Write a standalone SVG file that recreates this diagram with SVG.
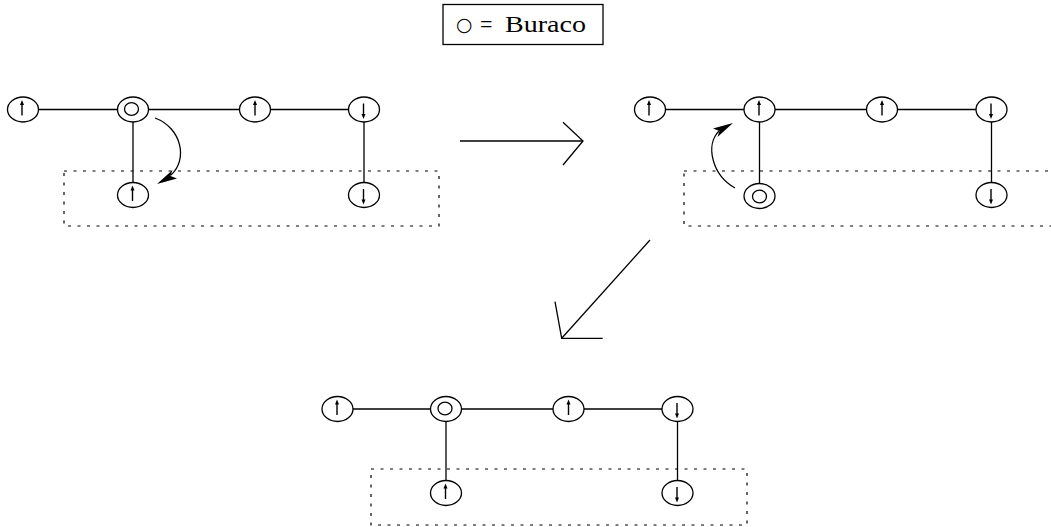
<svg xmlns="http://www.w3.org/2000/svg" xmlns:xlink="http://www.w3.org/1999/xlink" width="1051" height="527" viewBox="0 0 1051 527">
<style>
.n{fill:#fff;stroke:#000;stroke-width:1.3}
.e{fill:none;stroke:#000;stroke-width:1.3}
.d{fill:none;stroke:#000;stroke-width:1.2;stroke-dasharray:3 6.5}
.t{font-family:"Liberation Serif","Times New Roman",serif;font-size:23px;fill:#000}
.ah{fill:#000;stroke:none}
</style>
<defs>
<g id="up"><line x1="0" y1="6" x2="0" y2="-5" stroke="#000" stroke-width="1.4"/><polygon points="0,-9.5 -2,-4.5 2,-4.5" fill="#000"/></g>
<g id="down"><line x1="0" y1="-6" x2="0" y2="5" stroke="#000" stroke-width="1.4"/><polygon points="0,9.5 -2,4.5 2,4.5" fill="#000"/></g>
</defs>
<g id="legend">
<rect x="443" y="4.5" width="160" height="40" fill="#fff" stroke="#000" stroke-width="1.3"/>
<text x="456" y="31" style="font-family:'DejaVu Sans',sans-serif;font-size:19px">○</text>
<text class="t" x="480" y="32" textLength="12.5" lengthAdjust="spacingAndGlyphs">=</text>
<text class="t" x="505" y="32" textLength="81" lengthAdjust="spacingAndGlyphs">Buraco</text>
</g>
<g id="connectors">
<line class="e" x1="38" y1="109.5" x2="118" y2="109.5"/>
<line class="e" x1="148" y1="109.5" x2="240" y2="109.5"/>
<line class="e" x1="270" y1="109.5" x2="349" y2="109.5"/>
<line class="e" x1="133" y1="122" x2="133" y2="183"/>
<line class="e" x1="364" y1="122" x2="364" y2="183"/>
<line class="e" x1="665" y1="109.5" x2="744.5" y2="109.5"/>
<line class="e" x1="774.5" y1="109.5" x2="867" y2="109.5"/>
<line class="e" x1="897" y1="109.5" x2="976.5" y2="109.5"/>
<line class="e" x1="759.5" y1="122" x2="759.5" y2="184"/>
<line class="e" x1="991.5" y1="122" x2="991.5" y2="183"/>
<line class="e" x1="352.5" y1="409" x2="431" y2="409"/>
<line class="e" x1="461" y1="409" x2="553.5" y2="409"/>
<line class="e" x1="583.5" y1="409" x2="662.5" y2="409"/>
<line class="e" x1="446" y1="421" x2="446" y2="481"/>
<line class="e" x1="677.5" y1="421" x2="677.5" y2="481"/>
<path class="e" d="M155,118 C182,128 188,160 171,175"/>
<path class="ah" d="M157,184 L172.5,170 L170.5,176 L177,178.5 Z"/>
<path class="e" d="M735,188 C712,175 705,145 719,131"/>
<path class="ah" d="M733,123 L717.5,137 L719.5,131 L713,128.5 Z"/>
<line class="e" x1="460" y1="141" x2="583" y2="141"/>
<polyline class="e" points="563,122.3 583,141 563,165"/>
<line class="e" x1="650" y1="240" x2="561.7" y2="338.3"/>
<polyline class="e" points="555,301.7 561.7,338.3 602.7,338.3"/>
</g>
<g id="groups">
<rect class="d" x="64" y="171" width="375" height="55"/>
<rect class="d" x="684" y="171" width="380" height="55"/>
<rect class="d" x="371" y="469" width="376" height="56"/>
</g>
<g id="a1"><ellipse class="n" cx="23" cy="109.5" rx="15.5" ry="12.5"/><use href="#up" x="22" y="109.5"/></g>
<g id="a2"><ellipse class="n" cx="133" cy="109.5" rx="15.5" ry="12.5"/><ellipse class="n" cx="131.5" cy="109" rx="7" ry="6.3"/></g>
<g id="a3"><ellipse class="n" cx="255" cy="109.5" rx="15.5" ry="12.5"/><use href="#up" x="255" y="109.5"/></g>
<g id="a4"><ellipse class="n" cx="364" cy="109.5" rx="15.5" ry="12.5"/><use href="#down" x="363.5" y="109.5"/></g>
<g id="a5"><ellipse class="n" cx="133" cy="195" rx="15.5" ry="12.5"/><use href="#up" x="132.5" y="195"/></g>
<g id="a6"><ellipse class="n" cx="364" cy="195" rx="15.5" ry="12.5"/><use href="#down" x="363.5" y="195"/></g>
<g id="b1"><ellipse class="n" cx="650" cy="109.5" rx="15.5" ry="12.5"/><use href="#up" x="649" y="109.5"/></g>
<g id="b2"><ellipse class="n" cx="759.5" cy="109.5" rx="15.5" ry="12.5"/><use href="#up" x="759" y="109.5"/></g>
<g id="b3"><ellipse class="n" cx="882" cy="109.5" rx="15.5" ry="12.5"/><use href="#up" x="882" y="109.5"/></g>
<g id="b4"><ellipse class="n" cx="991.5" cy="109.5" rx="15.5" ry="12.5"/><use href="#down" x="991" y="109.5"/></g>
<g id="b5"><ellipse class="n" cx="759.5" cy="196" rx="15.5" ry="12.5"/><ellipse class="n" cx="759.5" cy="196.5" rx="7" ry="6.3"/></g>
<g id="b6"><ellipse class="n" cx="991.5" cy="195" rx="15.5" ry="12.5"/><use href="#down" x="991" y="195"/></g>
<g id="c1"><ellipse class="n" cx="337.5" cy="409" rx="15.5" ry="12.5"/><use href="#up" x="337" y="409"/></g>
<g id="c2"><ellipse class="n" cx="446" cy="409" rx="15.5" ry="12.5"/><ellipse class="n" cx="445" cy="408.5" rx="7" ry="6.3"/></g>
<g id="c3"><ellipse class="n" cx="568.5" cy="409" rx="15.5" ry="12.5"/><use href="#up" x="568.5" y="409"/></g>
<g id="c4"><ellipse class="n" cx="677.5" cy="409" rx="15.5" ry="12.5"/><use href="#down" x="677" y="409"/></g>
<g id="c5"><ellipse class="n" cx="446" cy="493" rx="15.5" ry="12.5"/><use href="#up" x="445.5" y="493"/></g>
<g id="c6"><ellipse class="n" cx="677.5" cy="493" rx="15.5" ry="12.5"/><use href="#down" x="677" y="493"/></g>
</svg>
